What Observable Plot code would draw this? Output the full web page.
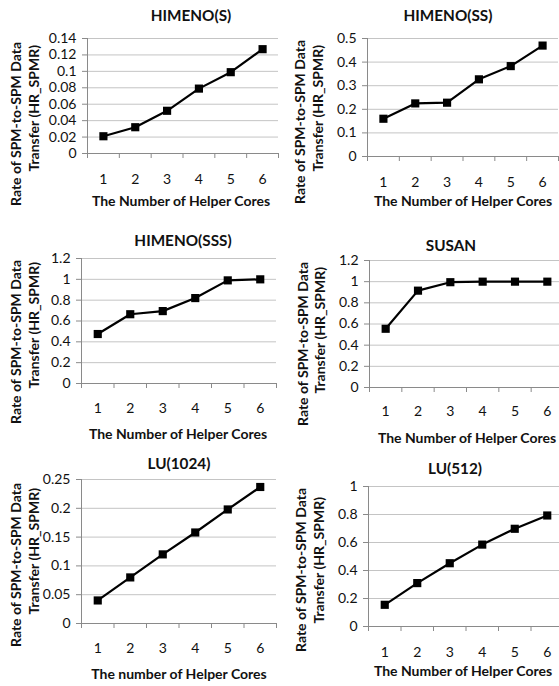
<!DOCTYPE html>
<html><head><meta charset="utf-8">
<script src="https://cdn.jsdelivr.net/npm/d3@7"></script>
<script src="https://cdn.jsdelivr.net/npm/@observablehq/plot@0.6"></script>
<style>
html,body{margin:0;padding:0;background:#fff;}
#root{position:relative;width:559px;height:686px;overflow:hidden;}
#root svg{position:absolute;}
</style></head><body><div id="root"></div>
<script>
// ---- data ----
const cores = [1, 2, 3, 4, 5, 6];
const titles = ["HIMENO(S)", "HIMENO(SS)", "HIMENO(SSS)", "SUSAN", "LU(1024)", "LU(512)"];
const himenoS   = [0.021, 0.032, 0.052, 0.079, 0.099, 0.127];
const himenoSS  = [0.16, 0.225, 0.228, 0.327, 0.383, 0.47];
const himenoSSS = [0.475, 0.665, 0.695, 0.82, 0.99, 1.0];
const susan     = [0.555, 0.915, 0.995, 1.0, 1.0, 1.0];
const lu1024    = [0.04, 0.08, 0.12, 0.158, 0.198, 0.237];
const lu512     = [0.155, 0.31, 0.452, 0.585, 0.698, 0.793];
const yTicksHimenoS   = [0, 0.02, 0.04, 0.06, 0.08, 0.1, 0.12, 0.14];
const yTicksHimenoSS  = [0, 0.1, 0.2, 0.3, 0.4, 0.5];
const yTicksHimenoSSS = [0, 0.2, 0.4, 0.6, 0.8, 1, 1.2];
const yTicksSusan     = [0, 0.2, 0.4, 0.6, 0.8, 1, 1.2];
const yTicksLu1024    = [0, 0.05, 0.1, 0.15, 0.2, 0.25];
const yTicksLu512     = [0, 0.2, 0.4, 0.6, 0.8, 1];
const yTitleLines = ["Rate of SPM-to-SPM Data", "Transfer (HR_SPMR)"];
const xTitles = ["The Number of Helper Cores", "The Number of Helper Cores", "The Number of Helper Cores",
                 "The Number of Helper Cores", "The number of Helper Cores", "The Number of Helper Cores"];

const series = [himenoS, himenoSS, himenoSSS, susan, lu1024, lu512];
const yTicks = [yTicksHimenoS, yTicksHimenoSS, yTicksHimenoSSS, yTicksSusan, yTicksLu1024, yTicksLu512];

// ---- layout (pixels) ----
const layout = [
  {fx0: 87,  fx1: 278, fy0: 38,  fy1: 153, tx: 191, ty: 15,  xt: 178, xtx: 181, xty: 200, l1: [15, 42],  l2: [33, 45]},
  {fx0: 367, fx1: 558, fy0: 38,  fy1: 156, tx: 448, ty: 15,  xt: 181, xtx: 463, xty: 200, l1: [299, 40], l2: [317, 45]},
  {fx0: 81,  fx1: 276, fy0: 258, fy1: 383, tx: 183, ty: 240, xt: 407, xtx: 178, xty: 433, l1: [15, 260], l2: [33, 262]},
  {fx0: 369, fx1: 563, fy0: 260, fy1: 387, tx: 451, ty: 245, xt: 410, xtx: 467, xty: 437, l1: [302, 262], l2: [319, 267]},
  {fx0: 81,  fx1: 276, fy0: 479, fy1: 623, tx: 179, ty: 463, xt: 647, xtx: 179, xty: 673, l1: [15, 483], l2: [33, 488]},
  {fx0: 368, fx1: 563, fy0: 486, fy1: 626, tx: 455, ty: 468, xt: 651, xtx: 463, xty: 670, l1: [300, 488], l2: [318, 497]}
];

const FONT = "Lato, 'Open Sans', sans-serif";
const tickFont = 14;
const gridColor = "#c4c4c4";
const axisColor = "#8a8a8a";
const root = document.getElementById("root");
const boundaries = d3.range(0.5, 7, 1);
const fmt = d => String(+d.toFixed(3));

series.forEach((vals, i) => {
  const L = layout[i];
  const ml = 60, mt = 10, mb = (L.xt - L.fy1) + 12;
  const data = cores.map((c, j) => ({core: c, value: vals[j]}));
  const ticks = yTicks[i];
  const chart = Plot.plot({
    width: (L.fx1 - L.fx0) + ml,
    height: (L.fy1 - L.fy0) + mt + mb,
    marginLeft: ml, marginRight: 0, marginTop: mt, marginBottom: mb,
    style: {fontFamily: FONT, fontSize: tickFont + "px", color: "#111", background: "transparent", overflow: "visible"},
    x: {domain: [0.5, 6.5]},
    y: {domain: [0, d3.max(ticks)]},
    marks: [
      Plot.ruleY(ticks.slice(1), {stroke: gridColor, strokeWidth: 1}),
      Plot.ruleX([0.5], {stroke: axisColor}),
      Plot.ruleY([0], {stroke: axisColor}),
      Plot.axisY(ticks, {tickSize: 5, tickPadding: 6, tickFormat: fmt, stroke: axisColor, fill: "#111", label: null}),
      Plot.axisX(boundaries, {tickSize: 5, tickFormat: () => "", stroke: axisColor, label: null}),
      Plot.axisX(cores, {tickSize: 0, tickPadding: (L.xt - L.fy1) - 4.9, fill: "#111", label: null}),
      Plot.line(data, {x: "core", y: "value", stroke: "#000", strokeWidth: 2.2}),
      Plot.dot(data, {x: "core", y: "value", symbol: "square", fill: "#000", r: 4.6})
    ]
  });
  chart.style.left = (L.fx0 - ml) + "px";
  chart.style.top = (L.fy0 - mt) + "px";
  root.appendChild(chart);
});

// ---- titles and axis titles ----
const svg = d3.select(root).append("svg")
  .attr("width", 559).attr("height", 686)
  .style("left", "0px").style("top", "0px")
  .attr("font-family", FONT).attr("font-weight", "bold").attr("fill", "#111");

layout.forEach((L, i) => {
  svg.append("text").attr("x", L.tx).attr("y", L.ty)
    .attr("text-anchor", "middle").attr("dominant-baseline", "central")
    .attr("font-size", 15.3).text(titles[i]);
  svg.append("text").attr("x", L.xtx).attr("y", L.xty)
    .attr("text-anchor", "middle").attr("dominant-baseline", "central")
    .attr("font-size", 14).text(xTitles[i]);
  [L.l1, L.l2].forEach((p, k) => {
    svg.append("text").attr("x", p[0]).attr("y", p[1])
      .attr("text-anchor", "end").attr("dominant-baseline", "central")
      .attr("transform", `rotate(-90, ${p[0]}, ${p[1]})`)
      .attr("font-size", 14).text(yTitleLines[k]);
  });
});
</script></body></html>
